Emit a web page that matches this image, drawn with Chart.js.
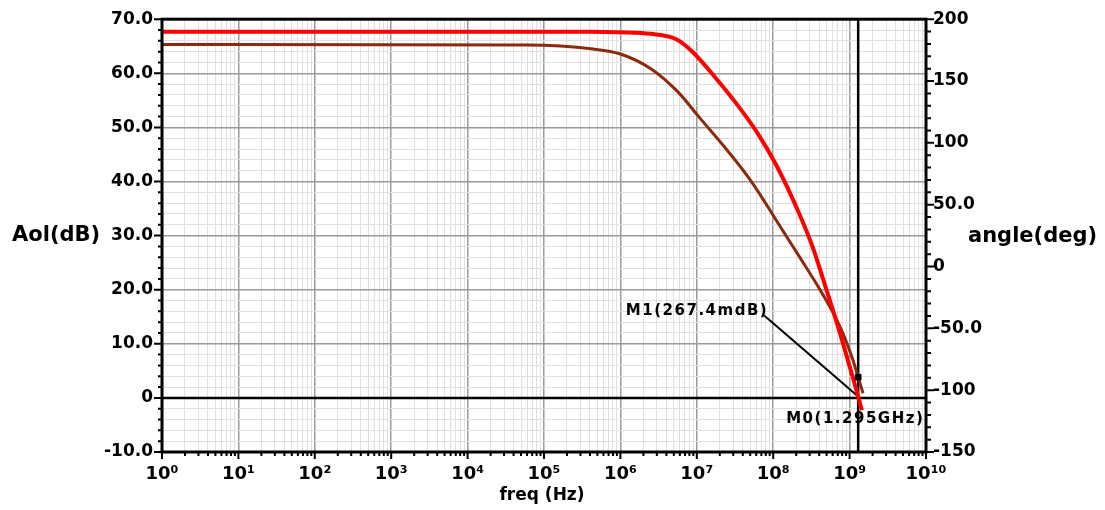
<!DOCTYPE html>
<html lang="en">
<head>
<meta charset="UTF-8" />
<title>Aol / phase</title>
<style>
  html, body { margin: 0; padding: 0; background: #fff; }
  #wrap { width: 1105px; height: 510px; }
</style>
<script src="https://cdn.jsdelivr.net/npm/chart.js"></script>
</head>
<body>
<div id="wrap"><canvas id="bode" width="1105" height="510"></canvas></div>
<script>
// open loop gain (red)
var gainFreq = [1, 4.4e5, 9.8e5, 2.5e6, 5.4e6, 8.9e6, 1.8e7, 3.3e7, 6.2e7, 1.1e8, 2.2e8, 3.3e8, 5.0e8, 7.4e8, 1.07e9, 1.295e9, 1.45e9];
var gainDb = [67.7, 67.7, 67.6, 67.3, 66.3, 63.9, 59.0, 54.4, 49.0, 43.0, 34.0, 27.8, 19.9, 12.2, 4.4, 0.27, -2.3];

// phase (brown), right axis
var phaseFreq = [1, 6.0e4, 4.4e5, 9.8e5, 2.5e6, 5.5e6, 1.1e7, 2.5e7, 5.0e7, 1.4e8, 2.2e8, 4.4e8, 7.4e8, 1.07e9, 1.26e9, 1.5e9];
var phaseDeg = [179.6, 179.1, 175.9, 172.1, 160.0, 142.0, 120.0, 94.0, 70.0, 27.0, 8.0, -22.0, -48.0, -73.0, -87.0, -102.5];

// markers
var m0Freq = 1.295e9;
var m1Gain = 0.2674;
var markerPhase = -89.5;
var m1Label = "M1(267.4mdB)";
var m0Label = "M0(1.295GHz)";

// axis ticks
var dbTicks = [-10, 0, 10, 20, 30, 40, 50, 60, 70];
var dbLabels = ["-10.0", "0", "10.0", "20.0", "30.0", "40.0", "50.0", "60.0", "70.0"];
var degTicks = [-150, -100, -50, 0, 50, 100, 150, 200];
var degLabels = ["-150", "-100", "-50.0", "0", "50.0", "100", "150", "200"];
var decadeLabels = ["10⁰", "10¹", "10²", "10³", "10⁴", "10⁵", "10⁶", "10⁷", "10⁸", "10⁹", "10¹⁰"];

var majorGrid = "#9a9a9a";
var minorGrid = "#e0e0e0";

function decadeIndex(v) {
  var l = Math.log10(v);
  return Math.abs(l - Math.round(l)) < 1e-9 ? Math.round(l) : -1;
}

function toPoints(xs, ys) {
  return xs.map(function (x, i) { return { x: x, y: ys[i] }; });
}

var bodeDecor = {
  id: "bodeDecor",
  beforeDatasetsDraw: function (chart) {
    var c = chart.ctx, a = chart.chartArea;
    var sx = chart.scales.x, sy = chart.scales.y;
    var px = sx.getPixelForValue(m0Freq);
    var py = sy.getPixelForValue(m1Gain);
    c.save();
    c.strokeStyle = "#000";
    c.lineWidth = 2.5;
    c.beginPath();
    c.moveTo(a.left, sy.getPixelForValue(0));
    c.lineTo(a.right, sy.getPixelForValue(0));
    c.moveTo(px, a.top);
    c.lineTo(px, a.bottom);
    c.stroke();
    // leader from the M1 label down to the crossing
    c.lineWidth = 2;
    c.beginPath();
    c.moveTo(px - 94, py - 81);
    c.lineTo(px, py);
    c.stroke();
    c.fillStyle = "#000";
    c.font = 'bold 15px "DejaVu Sans"';
    c.letterSpacing = "1.5px";
    c.textBaseline = "middle";
    c.textAlign = "right";
    c.fillText(m1Label, px - 90, py - 85);
    c.textAlign = "left";
    c.fillText(m0Label, px - 72, py + 23);
    c.restore();
  },
  afterDraw: function (chart) {
    var c = chart.ctx, a = chart.chartArea;
    var sx = chart.scales.x, sy = chart.scales.y, sy1 = chart.scales.y1;
    c.save();
    c.strokeStyle = "#000";
    c.lineWidth = 2;
    c.beginPath();
    // left axis ticks, every 2 dB
    for (var v = -10; v <= 70; v += 2) {
      var y = sy.getPixelForValue(v);
      c.moveTo(a.left, y);
      c.lineTo(a.left - (v % 10 === 0 ? 8 : 4), y);
    }
    // right axis ticks, every 10 deg
    for (var d = -150; d <= 200; d += 10) {
      var y2 = sy1.getPixelForValue(d);
      c.moveTo(a.right, y2);
      c.lineTo(a.right + (d % 50 === 0 ? 8 : 5), y2);
    }
    // bottom ticks
    for (var e = 0; e <= 10; e++) {
      for (var m = 1; m < 10; m++) {
        if (e === 10 && m > 1) break;
        var x = sx.getPixelForValue(m * Math.pow(10, e));
        c.moveTo(x, a.bottom);
        c.lineTo(x, a.bottom + (m === 1 ? 7 : 4));
      }
    }
    c.stroke();
    // frame
    c.lineWidth = 3;
    c.strokeRect(a.left, a.top, a.right - a.left, a.bottom - a.top);

    // axis titles
    c.fillStyle = "#000";
    c.textBaseline = "middle";
    c.font = 'bold 21px "DejaVu Sans"';
    c.textAlign = "left";
    c.fillText("Aol(dB)", 12, 236);
    c.fillText("angle(deg)", 968, 237);
    c.font = 'bold 17px "DejaVu Sans"';
    c.textAlign = "center";
    c.fillText("freq (Hz)", 542, 496);
    c.restore();
  }
};

Chart.defaults.font.family = '"DejaVu Sans"';
Chart.defaults.color = "#000";

var ctx = document.getElementById("bode").getContext("2d");
var bodeChart = new Chart(ctx, {
  type: "line",
  data: {
    datasets: [
      {
        label: "marker",
        data: [{ x: m0Freq, y: markerPhase }],
        yAxisID: "y1",
        showLine: false,
        pointStyle: "rect",
        pointRadius: 4,
        backgroundColor: "#000",
        borderColor: "#000"
      },
      {
        label: "Aol",
        data: toPoints(gainFreq, gainDb),
        yAxisID: "y",
        borderColor: "#ff0000",
        borderWidth: 4,
        pointRadius: 0,
        cubicInterpolationMode: "monotone"
      },
      {
        label: "angle",
        data: toPoints(phaseFreq, phaseDeg),
        yAxisID: "y1",
        borderColor: "#8b2a0c",
        borderWidth: 3,
        pointRadius: 0,
        cubicInterpolationMode: "monotone"
      }
    ]
  },
  options: {
    responsive: false,
    animation: false,
    layout: { padding: { top: 17, left: 0, right: 0, bottom: 0 } },
    plugins: { legend: { display: false }, tooltip: { enabled: false } },
    scales: {
      x: {
        type: "logarithmic",
        min: 1,
        max: 1e10,
        afterBuildTicks: function (scale) {
          var t = [];
          for (var e = 0; e < 10; e++) {
            for (var m = 1; m < 10; m++) t.push({ value: m * Math.pow(10, e) });
          }
          t.push({ value: 1e10 });
          scale.ticks = t;
        },
        grid: {
          drawTicks: false,
          color: function (c) { return decadeIndex(c.tick.value) >= 0 ? majorGrid : minorGrid; },
          lineWidth: function (c) { return decadeIndex(c.tick.value) >= 0 ? 1.5 : 1; }
        },
        border: { display: false },
        ticks: {
          autoSkip: false,
          maxRotation: 0,
          padding: 12,
          font: { size: 18, weight: "bold" },
          callback: function (v) {
            var i = decadeIndex(v);
            return i >= 0 ? decadeLabels[i] : "";
          }
        },
        afterFit: function (s) { s.height = 58; }
      },
      y: {
        position: "left",
        min: -10,
        max: 70,
        afterBuildTicks: function (scale) {
          var t = [];
          for (var v = -10; v <= 70; v += 2) t.push({ value: v });
          scale.ticks = t;
        },
        grid: {
          drawTicks: false,
          color: function (c) { return c.tick.value % 10 === 0 ? majorGrid : minorGrid; },
          lineWidth: function (c) { return c.tick.value % 10 === 0 ? 1.5 : 1; }
        },
        border: { display: false },
        ticks: {
          autoSkip: false,
          padding: 9,
          font: { size: 17, weight: "bold" },
          callback: function (v) {
            var i = dbTicks.indexOf(v);
            return i >= 0 ? dbLabels[i] : "";
          }
        },
        afterFit: function (s) { s.width = 162; }
      },
      y1: {
        position: "right",
        min: -150,
        max: 200,
        afterBuildTicks: function (scale) {
          scale.ticks = degTicks.map(function (v) { return { value: v }; });
        },
        grid: { display: false, drawTicks: false },
        border: { display: false },
        ticks: {
          autoSkip: false,
          padding: 7,
          font: { size: 17, weight: "bold" },
          callback: function (v) {
            var i = degTicks.indexOf(v);
            return i >= 0 ? degLabels[i] : "";
          }
        },
        afterFit: function (s) { s.width = 179; }
      }
    }
  },
  plugins: [bodeDecor]
});
</script>
</body>
</html>
